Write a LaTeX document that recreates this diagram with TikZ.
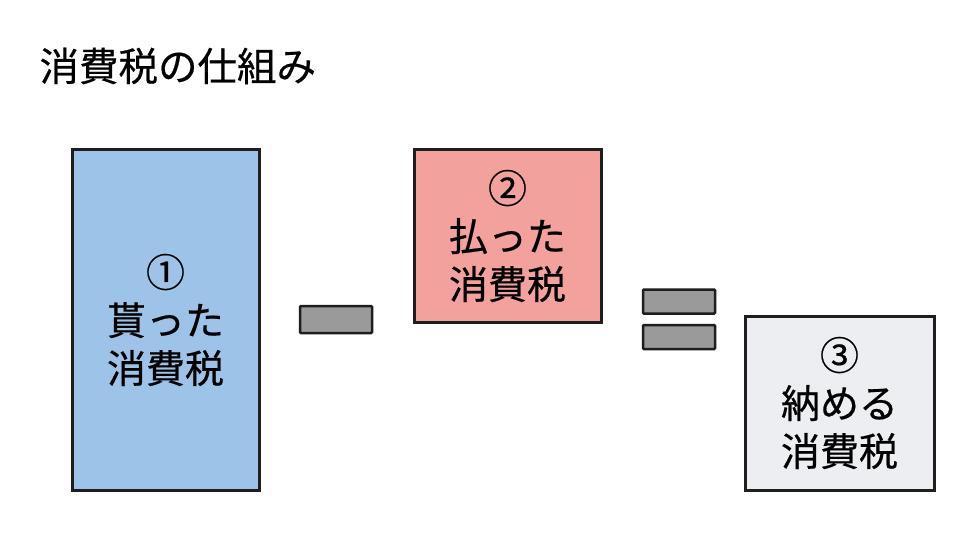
\documentclass[tikz,border=0pt]{standalone}
\usepackage{fontspec}
\setmainfont{Noto Sans CJK JP}[FakeBold=0.5]
\definecolor{boxblue}{HTML}{9DC3E8}
\definecolor{boxred}{HTML}{F2A19C}
\definecolor{boxgray}{HTML}{ECEEF1}
\definecolor{bargray}{HTML}{9A9A9A}
\definecolor{edge}{HTML}{1E1E1E}
\tikzset{
  taxbox/.style={draw=edge, line width=3pt, minimum width=#1, inner sep=0pt, align=center, font=\fontsize{39}{48}\selectfont},
  opbar/.style={draw=edge, line width=2.5pt, fill=bargray, rounded corners=1pt, minimum width=72pt, minimum height=27pt, inner sep=0pt},
}
\begin{document}
\begin{tikzpicture}[x=1pt,y=-1pt]
\useasboundingbox[fill=white] (0,0) rectangle (960,540);
\node[anchor=west, font=\fontsize{39.5}{42}\selectfont] (title) at (36,66) {消費税の仕組み};
\node[taxbox=187pt, fill=boxblue, minimum height=340pt] (got) at (165.5,320) {①\\貰った\\消費税};
\node[opbar] (minus) at (336,319.5) {};
\node[taxbox=187pt, fill=boxred, minimum height=172pt] (paid) at (507.5,236) {②\\払った\\消費税};
\node[opbar, minimum height=24pt] (eqtop) at (679,301.5) {};
\node[opbar, minimum height=24pt] (eqbot) at (679,337) {};
\node[taxbox=189pt, fill=boxgray, minimum height=174pt] (pay) at (839.5,403) {③\\納める\\消費税};
\end{tikzpicture}
\end{document}
